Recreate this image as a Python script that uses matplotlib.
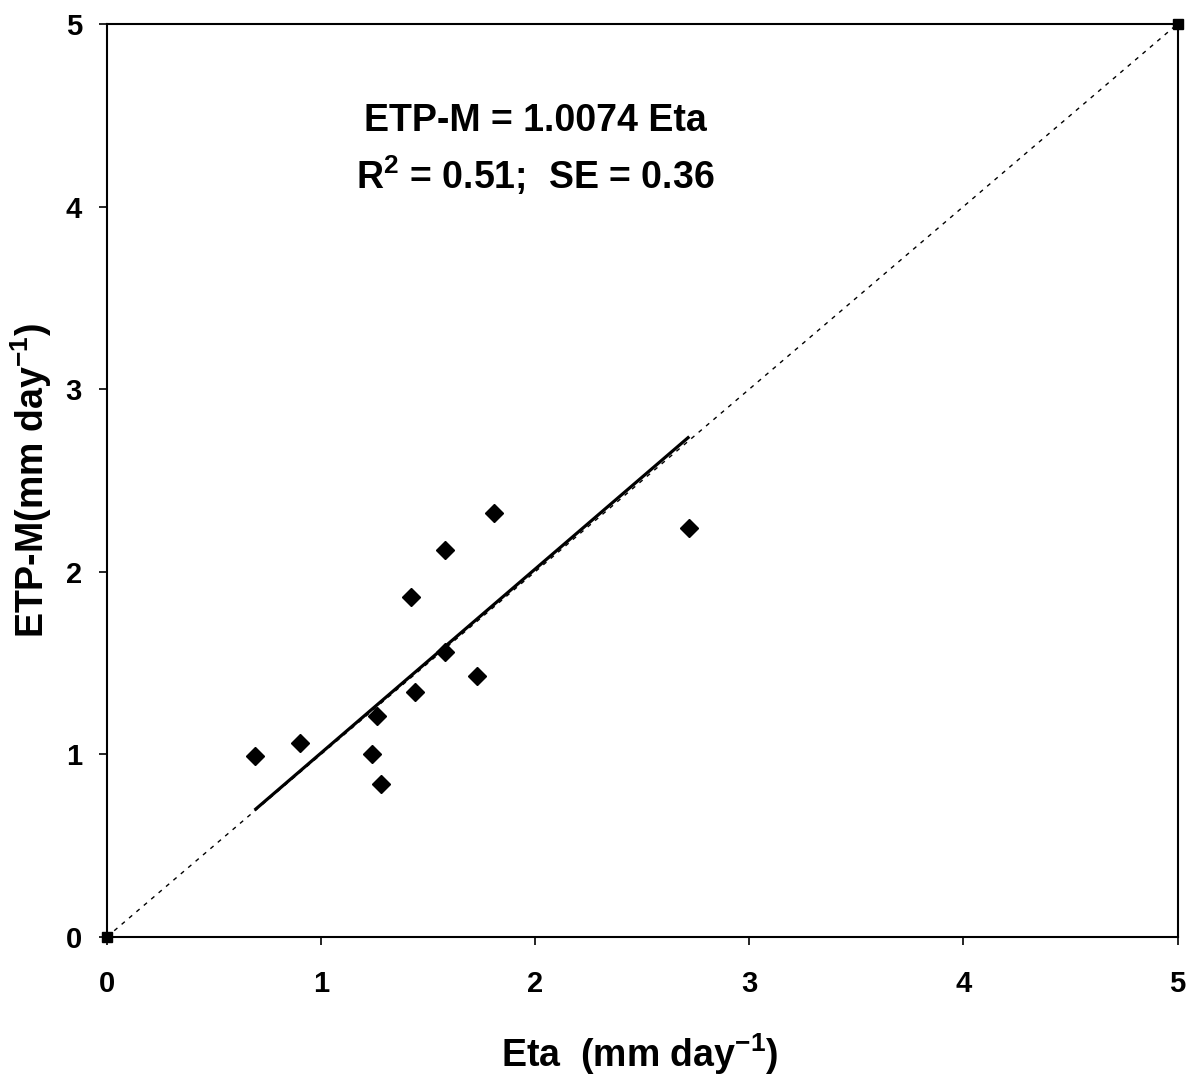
import numpy as np
import matplotlib
matplotlib.use("Agg")
from matplotlib import pyplot as plt

plt.rcParams['font.family'] = ['Liberation Sans', 'DejaVu Sans']
plt.rcParams['font.weight'] = 'bold'
plt.rcParams['mathtext.fontset'] = 'custom'
plt.rcParams['mathtext.bf'] = 'Liberation Sans:bold'
plt.rcParams['mathtext.rm'] = 'Liberation Sans:bold'
plt.rcParams['mathtext.default'] = 'bf'

# Daily values (mm/day)
eta   = [0.69, 0.90, 1.24, 1.26, 1.28, 1.42, 1.44, 1.58, 1.58, 1.73, 1.81, 2.72]
etp_m = [0.99, 1.06, 1.00, 1.21, 0.84, 1.86, 1.34, 1.56, 2.12, 1.43, 2.32, 2.24]

slope = 1.0074
fit_range = [0.69, 2.72]
one_to_one = [0, 5]

fig = plt.figure(figsize=(11.87, 10.8), dpi=100)
ax = fig.add_axes([0.090, 0.1324, 0.902, 0.8454])

# 1:1 line with square end markers
ax.plot(one_to_one, one_to_one, color='black', lw=1.0, ls=(0, (3, 4)),
        marker='s', markersize=7, zorder=2, clip_on=False)

# regression through the origin
xf = np.array(fit_range)
ax.plot(xf, slope * xf, color='black', lw=2.3, solid_capstyle='butt', zorder=3)

ax.plot(eta, etp_m, ls='none', marker='D', markersize=9, color='black', zorder=4)

ax.set_xlim(0, 5)
ax.set_ylim(0, 5)
ax.set_xticks(range(6))
ax.set_yticks(range(6))
ax.tick_params(direction='out', length=6, width=1.2, labelsize=21, top=False, right=False)
ax.tick_params(axis='x', pad=18)
ax.tick_params(axis='y', pad=12)
for lab in ax.get_xticklabels() + ax.get_yticklabels():
    lab.set_fontweight('bold')
for sp in ax.spines.values():
    sp.set_linewidth(1.5)

ax.set_xlabel('Eta  (mm day$^{-1}$)', fontsize=27, fontweight='bold')
ax.set_ylabel('ETP-M(mm day$^{-1}$)', fontsize=27, fontweight='bold')
ax.xaxis.set_label_coords(0.498, -0.103)
ax.yaxis.set_label_coords(-0.049, 0.5)

ax.text(2.0, 4.47, 'ETP-M = 1.0074 Eta', fontsize=27, fontweight='bold',
        ha='center', va='center')
ax.text(2.0, 4.17, 'R$^{2}$ = 0.51;  SE = 0.36', fontsize=27, fontweight='bold',
        ha='center', va='center')

fig.savefig('out.png', dpi=100)
